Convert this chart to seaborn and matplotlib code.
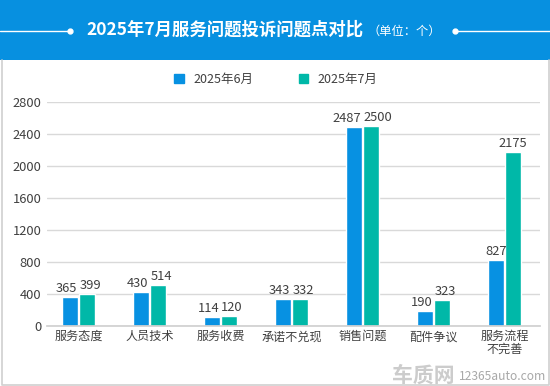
import numpy as np
import pandas as pd
import seaborn as sns
import matplotlib.pyplot as plt
from matplotlib.patches import Rectangle
from matplotlib.lines import Line2D

categories = ['服务态度', '人员技术', '服务收费', '承诺不兑现', '销售问题', '配件争议', '服务流程\n不完善']
june = [365, 430, 114, 343, 2487, 190, 827]
july = [399, 514, 120, 332, 2500, 323, 2175]
series = ['2025年6月', '2025年7月']
yticks = [0, 400, 800, 1200, 1600, 2000, 2400, 2800]

blue = '#0791e2'
teal = '#00b8a8'
txt = '#404040'

df = pd.DataFrame({
    'cat': categories * 2,
    'val': june + july,
    'series': [series[0]] * len(categories) + [series[1]] * len(categories),
})

sns.set_theme(style='white')
plt.rcParams['font.family'] = ['Noto Sans CJK SC', 'DejaVu Sans']

W, H = 550, 386
fig = plt.figure(figsize=(W / 100, H / 100), dpi=100)

# header band
fig.patches.append(Rectangle((0, 1 - 60 / H), 1, 60 / H, transform=fig.transFigure,
                             facecolor='#0790e0', edgecolor='none', zorder=0))
fig.text(225 / W, 1 - 30 / H, '2025年7月服务问题投诉问题点对比', color='white',
         fontsize=12.5, fontweight='bold', ha='center', va='center')
fig.text(368 / W, 1 - 31 / H, '（单位：个）', color='white', fontsize=8.8,
         ha='left', va='center')
yl = 1 - 30.5 / H
fig.add_artist(Line2D([0, 70 / W], [yl, yl], transform=fig.transFigure, color='white', lw=1))
fig.add_artist(Line2D([455 / W, 1], [yl, yl], transform=fig.transFigure, color='white', lw=1))
fig.add_artist(Line2D([70 / W], [yl], transform=fig.transFigure, marker='o', ms=3.5,
                      color='white', lw=0))
fig.add_artist(Line2D([455 / W], [yl], transform=fig.transFigure, marker='o', ms=3.5,
                      color='white', lw=0))

# panel border
fig.add_artist(Line2D([1.5 / W, 1.5 / W, 548.5 / W, 548.5 / W],
                      [1 - 60 / H, 1.5 / H, 1.5 / H, 1 - 60 / H],
                      transform=fig.transFigure, color='#d0d0d0', lw=1.2))

ax = fig.add_axes([47 / W, 60 / H, 493 / W, 224 / H])
sns.barplot(data=df, x='cat', y='val', hue='series', palette=[blue, teal],
            width=0.47, gap=0.08, ax=ax, legend=False, saturation=1)

ax.set_ylim(0, 2800)
ax.set_yticks(yticks)
ax.set_xlim(-0.5 + 4 / 71, len(categories) - 0.5)

# value labels, pushed apart when the two labels of a group would collide
pt = 0.72  # points per pixel at dpi 100
for i, (a, b) in enumerate(zip(june, july)):
    xa = ax.containers[0][i].get_x() + ax.containers[0][i].get_width() / 2
    xb = ax.containers[1][i].get_x() + ax.containers[1][i].get_width() / 2
    shift = 0
    if abs(a - b) < 170:
        w = max(len(str(a)), len(str(b))) * 7.2
        shift = max(0, (w + 2 - 17) / 2)
    ax.annotate(str(a), (xa, a), xytext=(-shift * pt, 2 * pt), textcoords='offset points',
                ha='center', va='bottom', fontsize=9.3, color=txt)
    ax.annotate(str(b), (xb, b), xytext=(shift * pt, 2 * pt), textcoords='offset points',
                ha='center', va='bottom', fontsize=9.3, color=txt)

ax.grid(axis='y', color='#d9d9d9', lw=1)
ax.set_axisbelow(True)
for s in ['top', 'right', 'left']:
    ax.spines[s].set_visible(False)
ax.spines['bottom'].set_color('#d0d0d0')
ax.tick_params(axis='y', length=0, labelsize=9.3, labelcolor=txt, pad=4)
ax.tick_params(axis='x', length=0, labelsize=8.7, labelcolor=txt, pad=3)
ax.set_xlabel('')
ax.set_ylabel('')
for lab in ax.get_xticklabels():
    lab.set_linespacing(1.0)

# legend
handles = [Rectangle((0, 0), 1, 1, color=c) for c in [blue, teal]]
fig.legend(handles, series, loc='center', bbox_to_anchor=(276 / W, 1 - 79 / H),
           ncol=2, frameon=False, fontsize=9, handlelength=0.75, handleheight=0.75,
           columnspacing=3.6, handletextpad=0.8, labelcolor=txt)

# watermark
fig.text(392 / W, 11 / H, '车质网', color='#cccccc', fontsize=15, fontweight='bold',
         ha='left', va='center', style='italic')
fig.text(459 / W, 9 / H, '12365auto.com', color='#a8a8a8', fontsize=8.7,
         ha='left', va='center')

fig.savefig('out.png', dpi=100)
